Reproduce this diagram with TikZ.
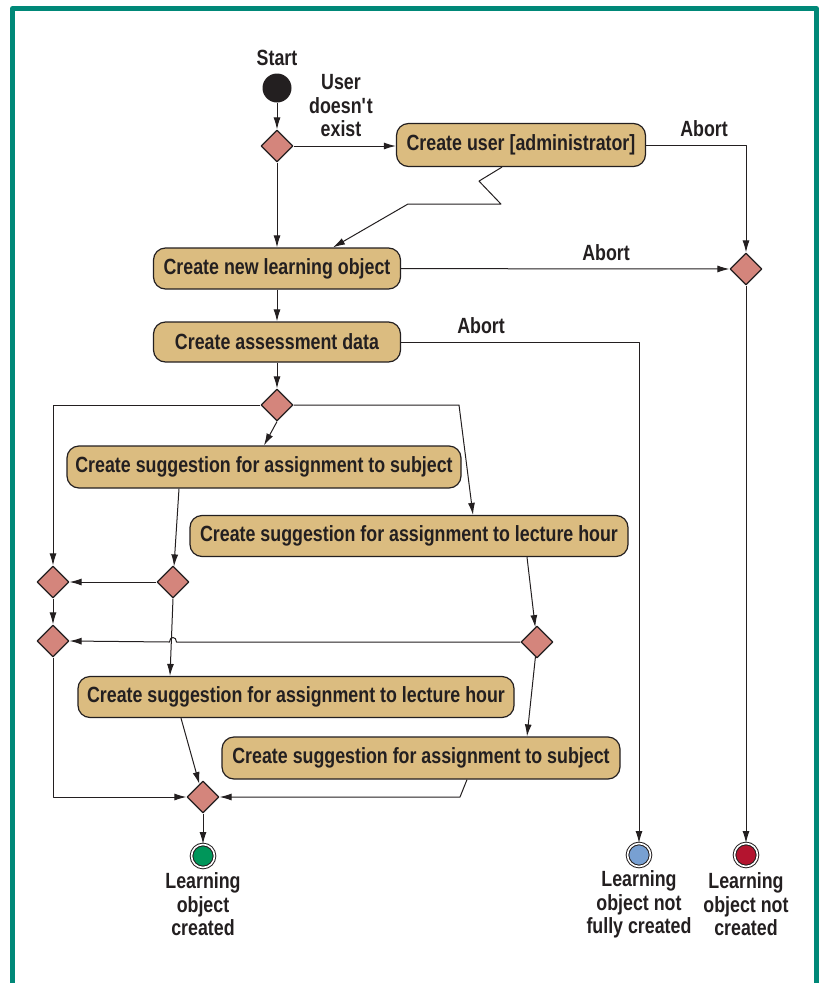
\documentclass[tikz,border=0pt]{standalone}
\usepackage{fontspec}
\newfontfamily\dfont{Liberation Sans}[FakeStretch=0.81]
\usetikzlibrary{shapes.geometric,arrows.meta}
\definecolor{ink}{HTML}{231F20}
\definecolor{frame}{HTML}{008878}
\definecolor{tan}{HTML}{DBBC80}
\definecolor{rose}{HTML}{D4857C}
\definecolor{okgreen}{HTML}{00965A}
\definecolor{halfblue}{HTML}{78A0D2}
\definecolor{failred}{HTML}{B4142F}
\begin{document}
\begin{tikzpicture}[x=1pt,y=-1pt,>={Latex[length=12pt,width=7pt]},line join=round,color=ink,line width=1pt,
	font=\dfont\bfseries\fontsize{22}{23.5}\selectfont,
	act/.style={draw,fill=tan,rounded corners=12pt,minimum height=41pt,inner sep=3pt,line width=1.2pt},
	dec/.style={diamond,draw,fill=rose,minimum width=32pt,minimum height=32pt,inner sep=0pt,line width=1.2pt},
	fin/.style={circle,draw,double,double distance=1.6pt,minimum size=23pt,inner sep=0pt,line width=1pt},
	lbl/.style={align=center,inner sep=0pt}]
			\useasboundingbox (0,0) rectangle (819,983);
			\draw[frame,line width=5pt] (12.5,8.5) rectangle (816.5,985);
			\node[lbl] (startlbl) at (277,58) {Start};
			\node[circle,fill=ink,minimum size=29pt,inner sep=0pt] (st) at (277,88) {};
			\node[dec] (d1) at (277,146) {};
			\node[lbl] (nouser) at (341,106) {User\\doesn\textquotesingle t\\exist};
			\node[act,minimum width=249pt,minimum height=43pt] (usr) at (521,145) {Create user [administrator]};
			\node[act,minimum width=247pt] (nlo) at (277,268.5) {Create new learning object};
			\node[dec] (dr) at (746,269) {};
			\node[act,minimum width=247pt,minimum height=40pt] (asd) at (277,342) {Create assessment data};
			\node[dec] (d3) at (277,405) {};
			\node[act,minimum width=394pt,minimum height=42pt] (sub1) at (264,467) {Create suggestion for assignment to subject};
			\node[act,minimum width=438pt] (lec1) at (409,536) {Create suggestion for assignment to lecture hour};
			\node[dec] (l1) at (53,582) {};
			\node[dec] (l2) at (173,582) {};
			\node[dec] (l3) at (53,641) {};
			\node[dec] (dR) at (537,642) {};
			\node[act,minimum width=436pt] (lec2) at (296,697) {Create suggestion for assignment to lecture hour};
			\node[act,minimum width=398pt,minimum height=42pt] (sub2) at (421,758) {Create suggestion for assignment to subject};
			\node[dec] (dF) at (203,797) {};
			\node[fin,fill=okgreen] (e1) at (203,856) {};
			\node[fin,fill=halfblue] (e2) at (639,855) {};
			\node[fin,fill=failred] (e3) at (746,855) {};
			\node[lbl] (e1lbl) at (203,904.5) {Learning\\object\\created};
			\node[lbl] (e2lbl) at (639,904.5) {Learning\\object not\\fully created};
			\node[lbl] (e3lbl) at (746,904.5) {Learning\\object not\\created};
			\draw[->] (st) -- (d1);
			\draw[->] (d1.east) -- (d1.east -| usr.west);
			\draw[->] (d1) -- (nlo);
			\draw[->] ([xshift=-19pt]usr.south) -- ++(-23,14) -- ++(22,23) -- (408,204) -- ([xshift=56pt]nlo.north);
			\draw[->] (usr.east) -| (dr);
			\node[lbl] (ab1) at (704,129) {Abort};
			\draw[->] (nlo) -- (dr);
			\node[lbl] (ab2) at (606,253) {Abort};
			\draw[->] (dr) -- (e3);
			\draw[->] (nlo) -- (asd);
			\draw[->] (asd.east) -| (e2);
			\node[lbl] (ab3) at (481,326) {Abort};
			\draw[->] (asd) -- (d3);
			\draw[->] (d3.south) -- (sub1.north);
			\draw[->] (d3.east) -- (459,405) -- ([xshift=64pt]lec1.north);
			\draw[->] (d3.west) -| (l1);
			\draw[->] ([xshift=-85pt]sub1.south) -- (l2);
			\draw[->] (l2) -- (l1);
			\draw[->] (l1) -- (l3);
			\draw[->] ([xshift=118pt]lec1.south) -- (dR);
			\draw[->] (dR.west) -- (176.5,642) .. controls (176.5,636) and (169.5,636) .. (169.5,642) -- (l3.east);
			\draw[->] (l2.south) -- ([xshift=-126pt]lec2.north);
			\draw[->] (dR) -- ([xshift=106pt]sub2.north);
			\draw[->] ([xshift=-115pt]lec2.south) -- (dF);
			\draw[->] (l3) |- (dF);
			\draw[->] ([xshift=46pt]sub2.south) -- (460,797) -- (dF.east);
			\draw[->] (dF) -- (e1);
\end{tikzpicture}
\end{document}
